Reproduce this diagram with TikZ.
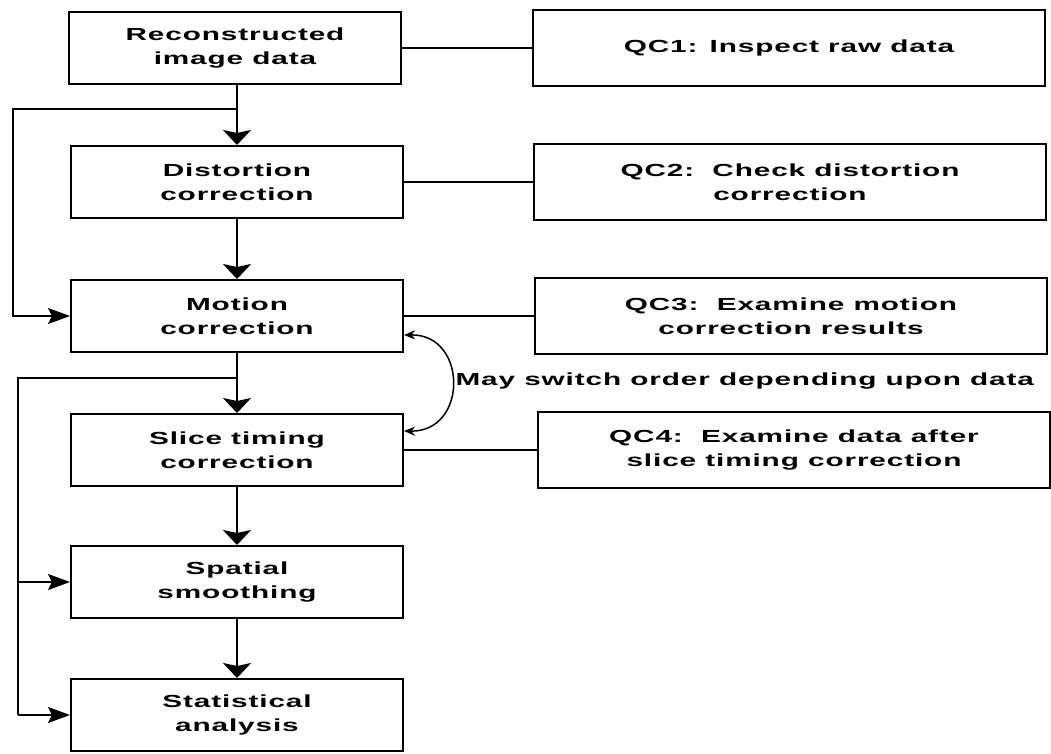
\documentclass[tikz,border=0pt]{standalone}
\usepackage{fontspec}
\setmainfont{Liberation Sans}[UprightFont={* Bold},FakeStretch=1.7,LetterSpace=5]
\usetikzlibrary{arrows.meta,calc}
\begin{document}
\begin{tikzpicture}[x=1pt,y=-1pt,
  every node/.style={font=\fontsize{17.5}{23.5}\selectfont},
  box/.style={draw,line width=2pt,minimum width=332pt,minimum height=72pt,align=center,inner sep=0pt},
  qc/.style={draw,line width=2pt,minimum width=512pt,minimum height=76pt,align=center,inner sep=0pt},
  link/.style={line width=1.4pt},
  trunk/.style={line width=2pt},
  flow/.style={line width=2.4pt,-{Stealth[length=15pt,width=28pt,inset=3pt]}},
  side/.style={line width=2pt,-{Stealth[length=22pt,width=16pt,inset=4pt]}},
  swap/.style={line width=1.5pt,{Stealth[length=11pt,width=9pt]}-{Stealth[length=11pt,width=9pt]}}]
\useasboundingbox (0,0) rectangle (1051,753);
% main column
\node[box] (b1) at (235,48) {Reconstructed\\image data};
\node[box] (b2) at (237,182) {Distortion\\correction};
\node[box] (b3) at (237,316) {Motion\\correction};
\node[box] (b4) at (237,450) {Slice timing\\correction};
\node[box] (b5) at (237,582) {Spatial\\smoothing};
\node[box] (b6) at (237,715) {Statistical\\analysis};
% QC column
\node[qc] (q1) at (789,48) {QC1: Inspect raw data};
\node[qc] (q2) at (790,182) {QC2:\ \ Check distortion\\correction};
\node[qc] (q3) at (791,316) {QC3:\ \ Examine motion\\correction results};
\node[qc] (q4) at (794,450) {QC4:\ \ Examine data after\\slice timing correction};
% QC links
\draw[link] (b1) -- (q1);
\draw[link] (b2) -- (q2);
\draw[link] (b3) -- (q3);
\draw[link] (b4) -- (q4);
% main flow
\draw[flow] (b1.south -| b2.south) -- (b2);
\draw[flow] (b2) -- (b3);
\draw[flow] (b3) -- (b4);
\draw[flow] (b4) -- (b5);
\draw[flow] (b5) -- (b6);
% first bypass
\coordinate (j1) at ($(b2.north)!0.6!(b2.north |- b1.south)$);
\draw[side] (j1) -- ++(-224,0) |- (b3.west);
% second bypass
\coordinate (j2) at ($(b3.south)!0.42!(b4.north)$);
\draw[trunk] (j2) -- ++(-219,0) coordinate (k) -- (k |- b6.west);
\draw[side] (k |- b5.west) -- (b5.west);
\draw[side] (k |- b6.west) -- (b6.west);
% order swap
\coordinate (c1) at ([yshift=18pt]b3.south east);
\coordinate (c2) at ([yshift=-18pt]b4.north east);
\draw[swap] (c1) .. controls (468,334) and (468,432) .. (c2);
\node[anchor=west] (lab) at (452,381) {May switch order depending upon data};
\end{tikzpicture}
\end{document}
